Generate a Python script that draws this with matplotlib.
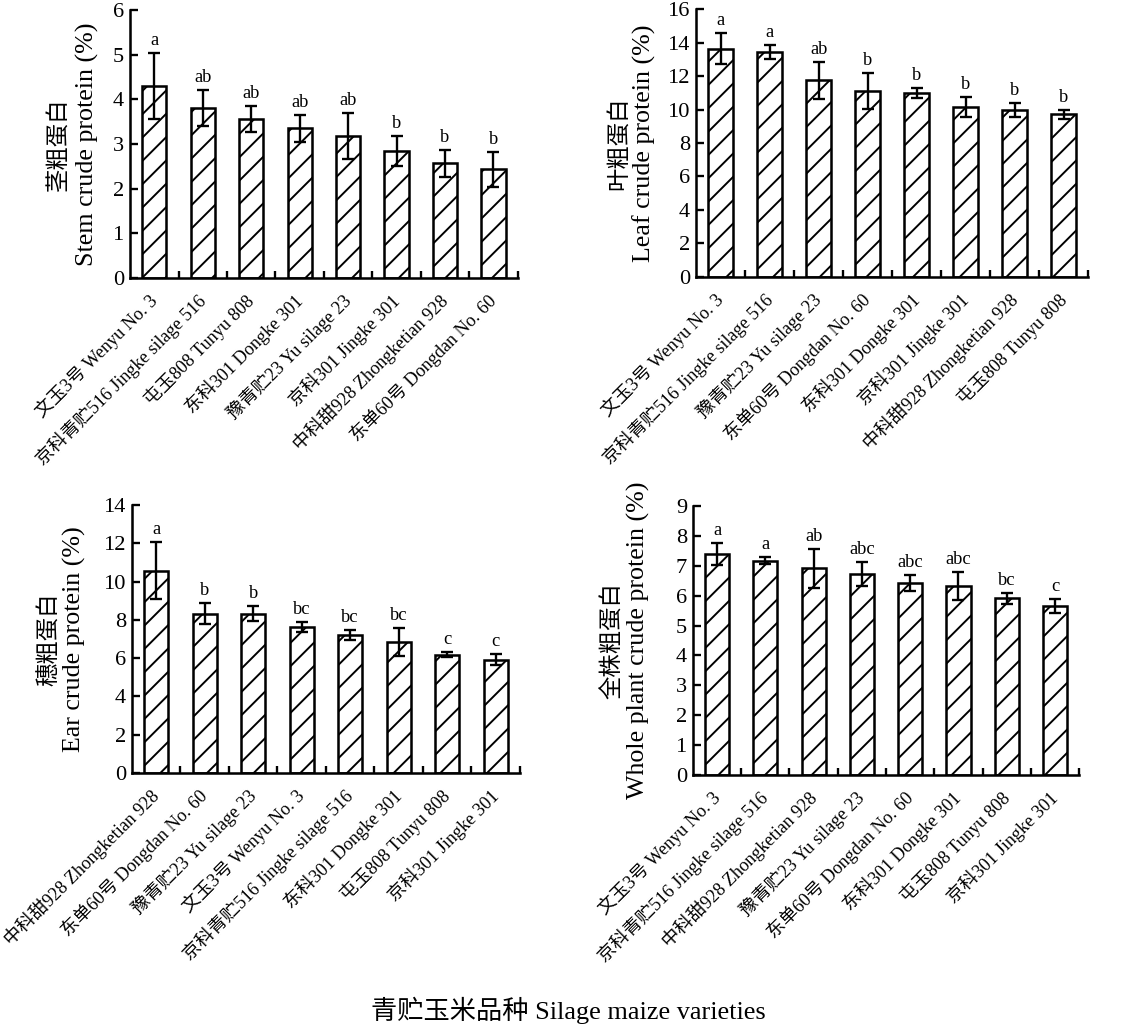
import matplotlib
matplotlib.use("Agg")
import matplotlib.pyplot as plt
import matplotlib.transforms as mtransforms
import numpy as np

plt.rcParams['font.family'] = ['Liberation Serif', 'Noto Sans CJK SC']
plt.rcParams['hatch.linewidth'] = 1.0
plt.rcParams['axes.linewidth'] = 1.3

# stem
stem_names = ['文玉3号 Wenyu No. 3', '京科青贮516 Jingke silage 516', '屯玉808 Tunyu 808',
              '东科301 Dongke 301', '豫青贮23 Yu silage 23', '京科301 Jingke 301',
              '中科甜928 Zhongketian 928', '东单60号 Dongdan No. 60']
stem_vals = [4.30, 3.81, 3.56, 3.35, 3.18, 2.85, 2.57, 2.43]
stem_err = [0.73, 0.40, 0.29, 0.30, 0.51, 0.34, 0.30, 0.40]
stem_sig = ['a', 'ab', 'ab', 'ab', 'ab', 'b', 'b', 'b']

# leaf
leaf_names = ['文玉3号 Wenyu No. 3', '京科青贮516 Jingke silage 516', '豫青贮23 Yu silage 23',
              '东单60号 Dongdan No. 60', '东科301 Dongke 301', '京科301 Jingke 301',
              '中科甜928 Zhongketian 928', '屯玉808 Tunyu 808']
leaf_vals = [13.63, 13.41, 11.74, 11.12, 10.96, 10.16, 9.96, 9.72]
leaf_err = [0.92, 0.42, 1.10, 1.08, 0.30, 0.60, 0.40, 0.26]
leaf_sig = ['a', 'a', 'ab', 'b', 'b', 'b', 'b', 'b']

# ear
ear_names = ['中科甜928 Zhongketian 928', '东单60号 Dongdan No. 60', '豫青贮23 Yu silage 23',
             '文玉3号 Wenyu No. 3', '京科青贮516 Jingke silage 516', '东科301 Dongke 301',
             '屯玉808 Tunyu 808', '京科301 Jingke 301']
ear_vals = [10.57, 8.33, 8.33, 7.63, 7.22, 6.82, 6.19, 5.93]
ear_err = [1.50, 0.56, 0.40, 0.28, 0.26, 0.73, 0.14, 0.30]
ear_sig = ['a', 'b', 'b', 'bc', 'bc', 'bc', 'c', 'c']

# whole plant
whole_names = ['文玉3号 Wenyu No. 3', '京科青贮516 Jingke silage 516', '中科甜928 Zhongketian 928',
               '豫青贮23 Yu silage 23', '东单60号 Dongdan No. 60', '东科301 Dongke 301',
               '屯玉808 Tunyu 808', '京科301 Jingke 301']
whole_vals = [7.40, 7.17, 6.91, 6.73, 6.43, 6.32, 5.91, 5.66]
whole_err = [0.36, 0.12, 0.64, 0.40, 0.27, 0.48, 0.18, 0.24]
whole_sig = ['a', 'a', 'ab', 'abc', 'abc', 'abc', 'bc', 'c']

DPI = 140
fig = plt.figure(figsize=(1123 / DPI, 1024 / DPI), dpi=DPI)

def px(v):
    return v * 72 / DPI

panels = [
    ([0.1158, 0.7285, 0.3452, 0.2617], stem_names, stem_vals, stem_err, stem_sig, 6, 1,
     '茎粗蛋白', 'Stem crude protein (%)', -70, -43),
    ([0.6198, 0.7295, 0.3492, 0.2617], leaf_names, leaf_vals, leaf_err, leaf_sig, 16, 2,
     '叶粗蛋白', 'Leaf crude protein (%)', -76, -52),
    ([0.1175, 0.2451, 0.3455, 0.2617], ear_names, ear_vals, ear_err, ear_sig, 14, 2,
     '穗粗蛋白', 'Ear crude protein (%)', -82, -57),
    ([0.6170, 0.2432, 0.3440, 0.2627], whole_names, whole_vals, whole_err, whole_sig, 9, 1,
     '全株粗蛋白', 'Whole plant crude protein (%)', -80, -54),
]

for rect, names, vals, err, sig, ymax, step, lab_cn, lab_en, xcn, xen in panels:
    ax = fig.add_axes(rect)
    x = np.arange(len(names))
    ax.bar(x, vals, width=0.5, color='white', edgecolor='black', linewidth=1.3, hatch='//')
    ax.errorbar(x, vals, yerr=err, fmt='none', ecolor='black', elinewidth=1.2, capsize=3.3, capthick=1.2)
    for xi, v, e, s in zip(x, vals, err, sig):
        ax.text(xi, v + e + ymax * 0.015, s, ha='center', va='bottom', fontsize=9.5)
    ax.set_xlim(-0.5, len(names) - 0.5)
    ax.set_ylim(0, ymax)
    ax.set_yticks(np.arange(0, ymax + 0.1, step))
    ax.set_xticks(x)
    ax.set_xticklabels(names, rotation=45, ha='right', va='center', rotation_mode='anchor', fontsize=9.4)
    shift = mtransforms.ScaledTranslation(13 / DPI, 0, fig.dpi_scale_trans)
    for lbl in ax.get_xticklabels():
        lbl.set_transform(lbl.get_transform() + shift)
    ax.set_xticks(np.arange(0.5, len(names), 1), minor=True)
    ax.tick_params(axis='x', which='major', length=0, pad=px(20))
    ax.tick_params(axis='x', which='minor', direction='in', length=3.5, width=1.2)
    ax.tick_params(axis='y', direction='in', length=4, width=1.2, labelsize=11.5, pad=3)
    ax.spines['top'].set_visible(False)
    ax.spines['right'].set_visible(False)
    ax.annotate(lab_cn, xy=(0, 0.5), xycoords='axes fraction', xytext=(px(xcn), 0),
                textcoords='offset points', rotation=90, ha='center', va='center', fontsize=12)
    ax.annotate(lab_en, xy=(0, 0.5), xycoords='axes fraction', xytext=(px(xen), 0),
                textcoords='offset points', rotation=90, ha='center', va='center', fontsize=13.4)

fig.text(0.506, 0.013, '青贮玉米品种 Silage maize varieties', ha='center', va='center', fontsize=13.5)

fig.savefig('out.png', dpi=DPI)
